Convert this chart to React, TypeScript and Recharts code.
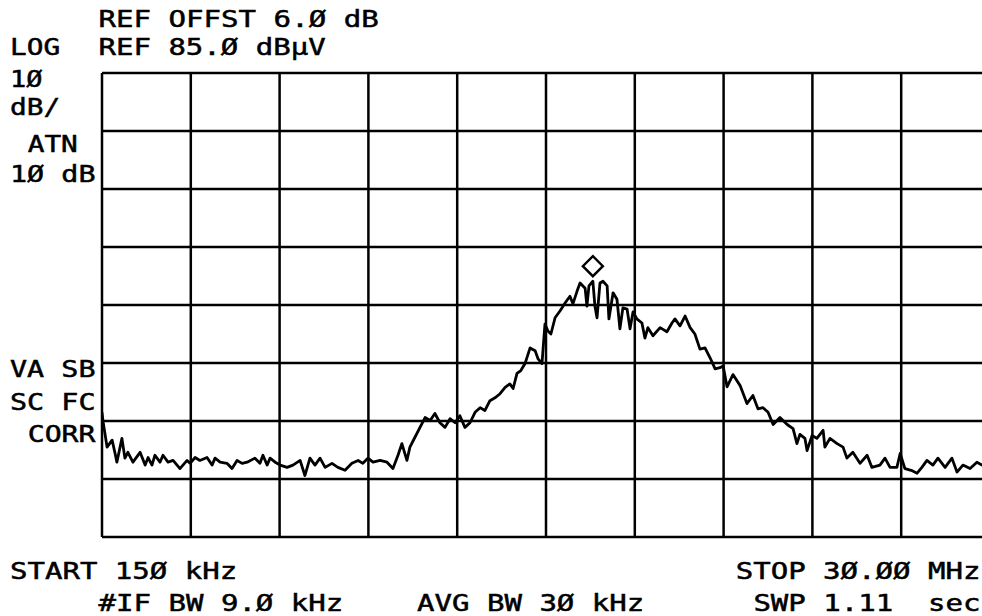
import { LineChart, Line, XAxis, YAxis, ReferenceLine, ReferenceDot } from 'recharts'

// sweep 150 kHz .. 30 MHz, ref 85 dBµV, 10 dB/div, 8 divisions
const freqMHz = [
  0.15, 0.18, 0.32, 0.49, 0.59, 0.65, 0.82, 0.92, 1.02, 1.19, 1.43, 1.6, 1.7, 1.83, 1.93, 2.1, 2.2, 2.37, 2.54, 2.77,
  3.01, 3.11, 3.28, 3.44, 3.68, 3.85, 3.95, 4.12, 4.35, 4.52, 4.69, 4.86, 5.03, 5.29, 5.46, 5.56, 5.7, 5.8, 5.97, 6.14,
  6.37, 6.57, 6.81, 6.97, 7.14, 7.31, 7.48, 7.65, 7.88, 8.08, 8.32, 8.55, 8.76, 8.92, 9.09, 9.26, 9.5, 9.73, 9.93, 10.1,
  10.23, 10.4, 10.5, 10.67, 10.84, 11.01, 11.18, 11.34, 11.51, 11.68, 11.85, 12.02, 12.18, 12.35, 12.52, 12.69, 12.86, 13.02, 13.19, 13.36,
  13.53, 13.7, 13.86, 13.97, 14.1, 14.23, 14.37, 14.54, 14.71, 14.81, 14.94, 15.04, 15.14, 15.24, 15.38, 15.55, 15.61, 15.71, 15.88, 15.98,
  16.12, 16.22, 16.39, 16.45, 16.52, 16.65, 16.72, 16.79, 16.89, 16.99, 17.13, 17.19, 17.33, 17.46, 17.56, 17.66, 17.8, 17.9, 18.0, 18.13,
  18.3, 18.4, 18.5, 18.67, 18.91, 19.14, 19.31, 19.41, 19.58, 19.75, 19.92, 20.08, 20.25, 20.42, 20.59, 20.76, 20.92, 21.03, 21.16, 21.36,
  21.6, 21.83, 22.03, 22.2, 22.37, 22.54, 22.71, 22.94, 23.18, 23.38, 23.51, 23.61, 23.78, 23.85, 24.02, 24.18, 24.39, 24.45, 24.62, 24.86,
  25.06, 25.19, 25.39, 25.63, 25.87, 26.03, 26.3, 26.47, 26.64, 26.87, 26.98, 27.14, 27.35, 27.55, 27.71, 27.88, 28.08, 28.25, 28.49, 28.72,
  28.89, 29.09, 29.33, 29.56, 29.73, 29.83, 30.0,
]

const levelDbuV = [
  26.5, 25.1, 20.5, 21.7, 19.4, 17.9, 22.0, 18.6, 19.6, 17.9, 19.6, 17.4, 18.7, 17.4, 19.1, 17.9, 19.1, 17.9, 18.2, 16.8,
  18.2, 17.7, 18.7, 18.2, 18.7, 17.4, 18.6, 17.9, 17.7, 16.8, 18.2, 17.7, 17.9, 18.6, 17.7, 19.1, 17.4, 18.6, 17.9, 17.4,
  17.0, 17.4, 18.2, 15.6, 18.6, 17.4, 18.6, 17.0, 17.7, 17.0, 16.5, 17.7, 18.2, 17.7, 18.6, 17.9, 18.2, 17.9, 16.8, 19.1,
  21.1, 18.2, 20.5, 22.2, 23.9, 25.6, 25.1, 26.3, 24.7, 23.9, 25.4, 24.7, 25.9, 23.9, 24.7, 26.5, 27.3, 26.8, 28.5, 29.0,
  29.7, 30.8, 31.4, 30.6, 33.2, 33.7, 34.9, 37.6, 37.1, 35.7, 34.9, 41.7, 40.5, 40.0, 42.8, 44.0, 44.5, 45.3, 46.5, 45.2,
  47.4, 48.8, 47.9, 44.8, 48.3, 49.1, 44.8, 42.8, 48.8, 49.1, 48.3, 42.6, 47.1, 46.0, 40.9, 44.5, 44.3, 40.9, 43.8, 42.6,
  41.9, 39.3, 41.1, 39.7, 41.1, 40.4, 41.9, 42.6, 41.4, 43.1, 41.1, 40.0, 37.4, 37.6, 35.9, 34.0, 34.2, 34.5, 30.9, 33.0,
  31.1, 28.0, 29.4, 27.1, 27.3, 26.5, 24.4, 25.6, 24.4, 23.7, 21.1, 22.7, 22.0, 19.9, 22.5, 22.0, 23.4, 20.5, 22.0, 21.1,
  20.5, 18.6, 19.6, 17.7, 19.1, 17.0, 17.4, 18.6, 17.0, 17.0, 19.4, 16.8, 16.5, 16.0, 17.0, 18.2, 17.4, 18.6, 17.0, 18.6,
  16.2, 17.4, 16.8, 17.9, 17.4, 17.7, 17.2,
]

const freqTicks = [0.15, 3.135, 6.12, 9.105, 12.09, 15.075, 18.06, 21.045, 24.03, 27.015, 30]
const levelTicks = [5, 15, 25, 35, 45, 55, 65, 75, 85]

const markerFreq = 16.65
const markerLevel = 49.1

// screen annotations on the analyzer's character grid: column, baseline
const labels: { col: number; y: number; text: string }[] = [
  { col: 5, y: 27, text: 'REF OFFST 6.Ø dB' },
  { col: 0, y: 55, text: 'LOG' },
  { col: 5, y: 55, text: 'REF 85.Ø dBµV' },
  { col: 0, y: 87, text: '1Ø' },
  { col: 0, y: 115, text: 'dB/' },
  { col: 1, y: 152, text: 'ATN' },
  { col: 0, y: 182, text: '1Ø dB' },
  { col: 0, y: 377, text: 'VA SB' },
  { col: 0, y: 410, text: 'SC FC' },
  { col: 1, y: 442, text: 'CORR' },
  { col: 0, y: 579, text: 'START 15Ø kHz' },
  { col: 41, y: 579, text: 'STOP 3Ø.ØØ MHz' },
  { col: 5, y: 611, text: '#IF BW 9.Ø kHz' },
  { col: 23, y: 611, text: 'AVG BW 3Ø kHz' },
  { col: 42, y: 611, text: 'SWP 1.11  sec' },
]

const CHAR_W = 17.7
const TEXT_LEFT = 10

const data = freqMHz.map((f, i) => ({ f, v: levelDbuV[i] }))

function Diamond(props: { cx?: number; cy?: number }) {
  const { cx = 0, cy = 0 } = props
  const c = cy - 15
  const r = 10
  return (
    <polygon
      points={`${cx},${c - r} ${cx + r},${c} ${cx},${c + r} ${cx - r},${c}`}
      fill="#fff"
      stroke="#000"
      strokeWidth={2.4}
    />
  )
}

export default function App() {
  return (
    <div
      style={{
        position: 'absolute',
        left: 0,
        top: 0,
        width: 982,
        height: 616,
        overflow: 'hidden',
        background: '#fff',
      }}
    >
      <LineChart width={1000} height={616} data={data} margin={{ top: 73, right: 10, bottom: 79, left: 102 }}>
        <XAxis
          dataKey="f"
          type="number"
          domain={[0.15, 30]}
          ticks={freqTicks}
          height={0}
          tick={false}
          tickLine={false}
          axisLine={false}
          allowDataOverflow
        />
        <YAxis
          type="number"
          domain={[5, 85]}
          ticks={levelTicks}
          width={0}
          tick={false}
          tickLine={false}
          axisLine={false}
          allowDataOverflow
        />
        {freqTicks.map((t) => (
          <ReferenceLine key={`x${t}`} x={t} stroke="#000" strokeWidth={2.5} />
        ))}
        {levelTicks.map((t) => (
          <ReferenceLine key={`y${t}`} y={t} stroke="#000" strokeWidth={2.5} />
        ))}
        <Line
          dataKey="v"
          type="linear"
          stroke="#000"
          strokeWidth={2.8}
          strokeLinejoin="round"
          dot={false}
          isAnimationActive={false}
        />
        <ReferenceDot x={markerFreq} y={markerLevel} shape={<Diamond />} />
      </LineChart>
      <svg
        width={982}
        height={616}
        style={{ position: 'absolute', left: 0, top: 0, pointerEvents: 'none' }}
      >
        {labels.map((l) => (
          <text
            key={l.text}
            x={TEXT_LEFT + l.col * CHAR_W}
            y={l.y}
            fontFamily="'DejaVu Sans Mono', monospace"
            fontSize={23}
            textLength={l.text.length * CHAR_W - 3}
            lengthAdjust="spacingAndGlyphs"
            fill="#000"
            stroke="#000"
            strokeWidth={0.5}
            style={{ whiteSpace: 'pre' }}
          >
            {l.text}
          </text>
        ))}
      </svg>
    </div>
  )
}
